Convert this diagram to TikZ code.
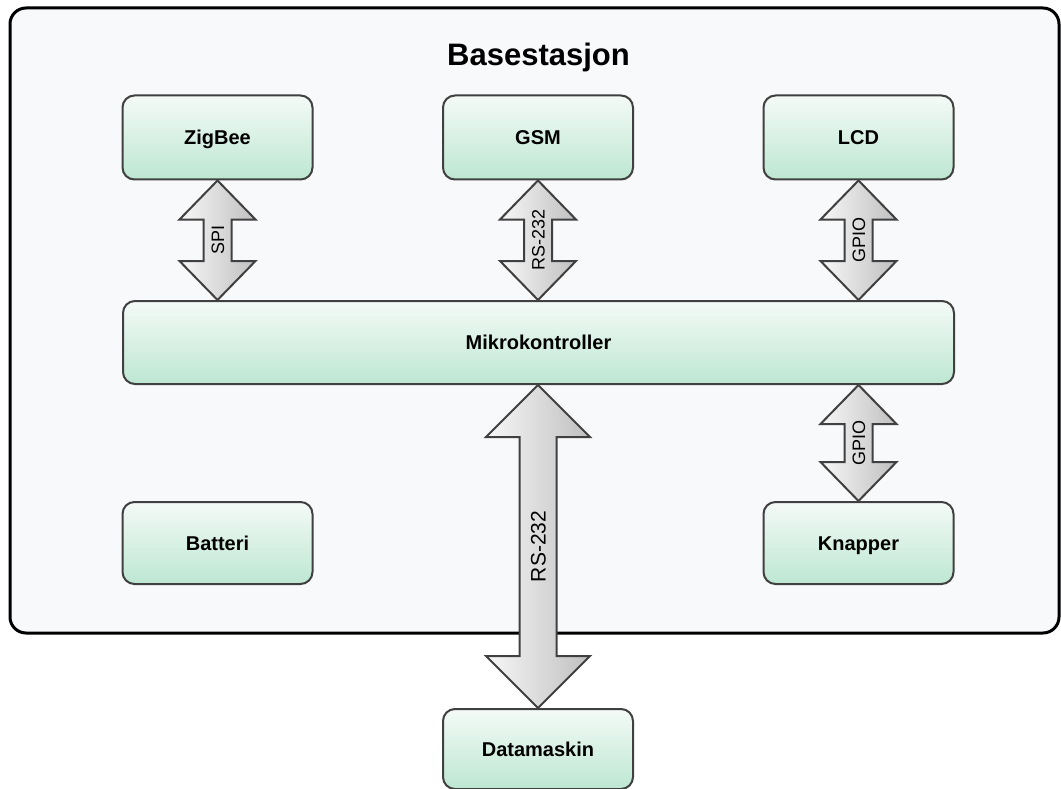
\documentclass[tikz,border=0pt]{standalone}
\usepackage{fontspec}
\setmainfont{Liberation Sans}
\usetikzlibrary{calc}

\definecolor{boxtop}{HTML}{F4FAF7}
\definecolor{boxbot}{HTML}{BDE7D2}
\definecolor{boxline}{HTML}{404040}
\definecolor{framefill}{HTML}{F8F9FB}

\tikzset{
  frame/.style={draw=black, line width=3pt, rounded corners=16pt, fill=framefill},
  unit/.style={draw=boxline, line width=2pt, rounded corners=12pt,
    top color=boxtop, bottom color=boxbot, shading angle=0,
    minimum width=190pt, minimum height=84pt, inner sep=0pt,
    font=\fontsize{20}{24}\selectfont\bfseries, text height=14pt, text depth=0pt},
  busarrow/.style={draw=boxline, line width=2pt, line join=miter,
    left color=gray!6, right color=gray!50},
  buslabel/.style={rotate=90, inner sep=0pt, text height=13pt, text depth=0pt,
    font=\fontsize{18}{20}\selectfont},
  title/.style={font=\fontsize{31}{36}\selectfont\bfseries, inner sep=0pt, anchor=base}
}

% double-headed block arrow between two vertically aligned points
% #1 top point, #2 bottom point, #3 shaft half width, #4 head half width,
% #5 head length, #6 label, #7 extra label style
\newcommand\blockarrow[7]{%
  \draw[busarrow] let \p1=#1, \p2=#2 in
    (\x1,\y1) -- (\x1+#4,\y1-#5) -- (\x1+#3,\y1-#5) -- (\x1+#3,\y2+#5)
    -- (\x1+#4,\y2+#5) -- (\x1,\y2) -- (\x1-#4,\y2+#5) -- (\x1-#3,\y2+#5)
    -- (\x1-#3,\y1-#5) -- (\x1-#4,\y1-#5) -- cycle;
  \node[buslabel,#7] at ($#1!0.5!#2$) {#6};%
}

\begin{document}
\begin{tikzpicture}[x=1pt,y=-1pt]
  \useasboundingbox (0,0) rectangle (1061,789);

  % base station enclosure
  \draw[frame] (10,8) rectangle (1059,633);
  \node[title] (title) at (538.5,66) {Basestasjon};

  % modules
  \node[unit] (zig)  at (217.5,137.5) {ZigBee};
  \node[unit] (gsm)  at (538,137.5)   {GSM};
  \node[unit] (lcd)  at (858.5,137.5) {LCD};
  \node[unit, minimum width=831pt, minimum height=83pt] (mcu) at (538.5,342.5) {Mikrokontroller};
  \node[unit, minimum height=82pt] (bat) at (217.5,543) {Batteri};
  \node[unit, minimum height=82pt] (btn) at (858.5,543) {Knapper};
  \node[unit, minimum height=80pt] (pc)  at (538,749)   {Datamaskin};

  % buses
  \blockarrow{(zig.south)}{(zig.south |- mcu.north)}{14pt}{38pt}{39pt}{SPI}{}
  \blockarrow{(gsm.south)}{(gsm.south |- mcu.north)}{14pt}{38pt}{39pt}{RS-232}{}
  \blockarrow{(lcd.south)}{(lcd.south |- mcu.north)}{14pt}{38pt}{39pt}{GPIO}{}
  \blockarrow{(btn.north |- mcu.south)}{(btn.north)}{14pt}{38pt}{39pt}{GPIO}{}
  \blockarrow{(pc.north |- mcu.south)}{(pc.north)}{18.5pt}{52pt}{52pt}{RS-232}{font=\fontsize{21}{24}\selectfont, text height=15pt}
\end{tikzpicture}
\end{document}
